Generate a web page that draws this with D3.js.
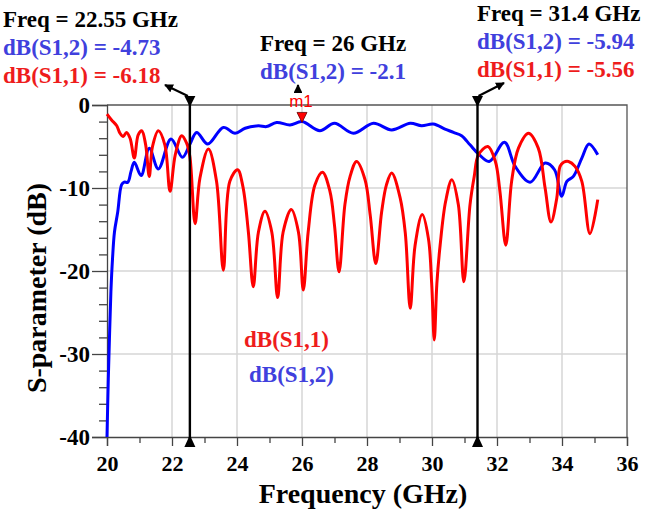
<!DOCTYPE html>
<html><head><meta charset="utf-8">
<script src="https://cdn.jsdelivr.net/npm/d3@7"></script>
<style>body{margin:0;background:#fff} svg{display:block}</style>
</head><body>
<svg id="c" width="659" height="513"></svg>
<script>
// ---- data ----
const s11Freq = [20.00,20.14,20.30,20.40,20.50,20.60,20.71,20.84,20.96,21.07,21.19,21.30,21.40,21.58,21.78,21.94,22.10,22.30,22.45,22.55,22.71,22.86,23.12,23.37,23.58,23.78,24.02,24.18,24.35,24.50,24.66,24.86,25.07,25.25,25.42,25.67,25.89,26.04,26.19,26.40,26.63,26.86,27.00,27.14,27.32,27.48,27.68,27.94,28.10,28.27,28.45,28.60,28.76,29.02,29.18,29.33,29.48,29.70,29.89,29.99,30.07,30.15,30.25,30.42,30.61,30.81,30.98,31.17,31.30,31.43,31.72,31.95,32.09,32.27,32.45,32.66,32.97,33.27,33.48,33.66,33.84,33.94,34.05,34.20,34.40,34.61,34.86,35.10];
const s11dB   = [-1.1,-1.8,-2.5,-3.4,-3.8,-3.3,-4.0,-6.4,-3.6,-3.1,-4.8,-8.6,-5.0,-3.1,-4.8,-10.4,-6.0,-3.7,-4.6,-6.2,-14.3,-8.8,-5.3,-9.2,-19.9,-9.2,-7.8,-9.8,-15.3,-21.9,-15.3,-12.8,-15.3,-23.2,-15.3,-12.6,-15.3,-22.3,-15.3,-9.6,-8.1,-10.4,-14.5,-20.1,-12.0,-8.6,-6.8,-9.0,-13.3,-19.1,-12.9,-9.6,-8.2,-11.2,-15.5,-24.5,-16.9,-13.2,-16.1,-21.5,-28.3,-21.5,-16.9,-11.6,-9.0,-12.0,-21.3,-12.0,-8.6,-6.0,-5.0,-6.8,-10.4,-16.9,-9.2,-5.2,-3.4,-5.2,-10.0,-14.1,-11.2,-7.4,-6.9,-6.8,-7.4,-9.2,-15.5,-11.4];
const s12Freq = [20.00,20.04,20.08,20.12,20.17,20.23,20.33,20.45,20.53,20.64,20.74,20.84,21.05,21.30,21.58,21.97,22.32,22.55,22.76,23.10,23.58,23.94,24.25,24.66,24.91,25.22,25.63,26.00,26.55,27.00,27.58,28.20,28.76,29.33,29.68,30.04,30.40,30.66,30.91,31.17,31.43,31.76,32.23,32.56,33.02,33.48,33.77,33.99,34.15,34.35,34.61,34.83,35.10];
const s12dB   = [-40,-33,-27.5,-22.5,-18.5,-15.3,-12.9,-9.6,-9.3,-9.3,-8.0,-6.9,-8.5,-5.2,-7.7,-4.1,-6.3,-4.73,-3.3,-4.7,-2.7,-3.4,-2.8,-2.5,-2.6,-2.1,-2.4,-2.0,-3.1,-2.2,-3.4,-2.2,-3.0,-2.2,-2.5,-2.3,-2.9,-3.3,-3.7,-4.8,-5.9,-6.8,-4.5,-7.4,-9.3,-7.0,-7.8,-11.0,-9.2,-8.6,-6.4,-4.7,-6.0];
const xTicks = [20,22,24,26,28,30,32,34,36];
const xMinor = [21,23,25,27,29,31,33,35];
const yTicks = [0,-10,-20,-30,-40];
const yMinor = [-2,-4,-6,-8,-12,-14,-16,-18,-22,-24,-26,-28,-32,-34,-36,-38];
const markerFreqs = [22.55, 31.4];
const m1Freq = 26, m1Val = -2.1;
const ann1 = ["Freq = 22.55 GHz","dB(S1,2) = -4.73","dB(S1,1) = -6.18"];
const ann2 = ["Freq = 26 GHz","dB(S1,2) = -2.1"];
const ann3 = ["Freq = 31.4 GHz","dB(S1,2) = -5.94","dB(S1,1) = -5.56"];

const RED = "#ff0000", BLUE = "#0000ff", TRED = "#ee1c1c", TBLUE = "#4040dd";
const serif = "'Liberation Serif','Times New Roman',serif";

const svg = d3.select("#c");
svg.append("rect").attr("width",659).attr("height",513).attr("fill","#fff");
const L=107, R=627, T=105, B=437;
const x = d3.scaleLinear().domain([20,36]).range([L,R]);
const y = d3.scaleLinear().domain([-40,0]).range([B,T]);

// grid
const g = svg.append("g");
g.selectAll("line.vg").data(xTicks.slice(1,-1)).join("line")
  .attr("x1",d=>x(d)).attr("x2",d=>x(d)).attr("y1",T).attr("y2",B)
  .attr("stroke","#d6d6d6").attr("stroke-width",1.5);
g.selectAll("line.hg").data(yTicks.slice(1,-1)).join("line")
  .attr("y1",d=>y(d)).attr("y2",d=>y(d)).attr("x1",L).attr("x2",R)
  .attr("stroke","#d6d6d6").attr("stroke-width",1.5);
// frame top/right
svg.append("path").attr("d",`M${L},${T}H${R}V${B}`).attr("fill","none").attr("stroke","#555").attr("stroke-width",1.3);

// axes
function styleAxis(sel, fs){
  sel.select(".domain").attr("stroke","#444").attr("stroke-width",1.3);
  sel.selectAll(".tick line").attr("stroke","#444").attr("stroke-width",1.3);
  sel.selectAll("text").attr("font-family",serif).attr("font-weight","bold").attr("font-size",fs).attr("fill","#000");
}
const fmt = d => String(d);
const xa = svg.append("g").attr("transform",`translate(0,${B})`)
  .call(d3.axisBottom(x).tickValues(xTicks).tickSize(9).tickPadding(9).tickFormat(fmt));
styleAxis(xa, 22);
const xm = svg.append("g").attr("transform",`translate(0,${B})`)
  .call(d3.axisBottom(x).tickValues(xMinor).tickSize(6).tickFormat(""));
styleAxis(xm, 22);
const ya = svg.append("g").attr("transform",`translate(${L},0)`)
  .call(d3.axisLeft(y).tickValues(yTicks).tickSize(15).tickPadding(2).tickFormat(fmt));
styleAxis(ya, 23);
const ym = svg.append("g").attr("transform",`translate(${L},0)`)
  .call(d3.axisLeft(y).tickValues(yMinor).tickSize(8).tickFormat(""));
styleAxis(ym, 23);
[xm,ym].forEach(a=>a.select(".domain").remove());

// axis titles
svg.append("text").attr("x",(L+R)/2-4).attr("y",503).attr("text-anchor","middle")
  .attr("font-family",serif).attr("font-weight","bold").attr("font-size",28).text("Frequency (GHz)");
svg.append("text").attr("transform",`translate(46,${288}) rotate(-90)`).attr("text-anchor","middle")
  .attr("font-family",serif).attr("font-weight","bold").attr("font-size",28).text("S-parameter (dB)");

// curves
const line = d3.line().x(d=>x(d[0])).y(d=>y(d[1])).curve(d3.curveCatmullRom.alpha(0.5));
svg.append("path").datum(s12Freq.map((f,i)=>[f,s12dB[i]])).attr("d",line)
  .attr("fill","none").attr("stroke",BLUE).attr("stroke-width",3).attr("stroke-linejoin","round");
svg.append("path").datum(s11Freq.map((f,i)=>[f,s11dB[i]])).attr("d",line)
  .attr("fill","none").attr("stroke",RED).attr("stroke-width",3).attr("stroke-linejoin","round");

// legend texts inside plot
svg.append("text").attr("x",244).attr("y",347).attr("font-family",serif).attr("font-weight","bold")
  .attr("font-size",23).attr("fill",TRED).text("dB(S1,1)");
svg.append("text").attr("x",249).attr("y",382).attr("font-family",serif).attr("font-weight","bold")
  .attr("font-size",23).attr("fill",TBLUE).text("dB(S1,2)");

// marker lines
markerFreqs.forEach(f=>{
  const xx = x(f);
  svg.append("line").attr("x1",xx).attr("x2",xx).attr("y1",T-6).attr("y2",B+6)
    .attr("stroke","#000").attr("stroke-width",2.4);
  svg.append("path").attr("d",`M${xx-5.5},${T-9}L${xx+5.5},${T-9}L${xx},${T+2}Z`).attr("fill","#000");
  svg.append("path").attr("d",`M${xx-5.5},${B+10}L${xx+5.5},${B+10}L${xx},${B-2}Z`).attr("fill","#000");
});

// m1 marker
const mx = x(m1Freq), my = y(m1Val);
svg.append("path").attr("d",`M${mx-5},${my-10}L${mx+5},${my-10}L${mx},${my}Z`)
  .attr("fill","#ff0000").attr("stroke","#600").attr("stroke-width",0.8);
svg.append("text").attr("x",mx-1).attr("y",T+2).attr("text-anchor","middle")
  .attr("font-family","'Liberation Sans',Arial,sans-serif").attr("font-size",17).attr("fill",RED).text("m1");

// arrows
const defs = svg.append("defs");
defs.append("marker").attr("id","ah").attr("viewBox","0 0 10 10").attr("refX",9).attr("refY",5)
  .attr("markerWidth",4).attr("markerHeight",4).attr("orient","auto")
  .append("path").attr("d","M0,0L10,5L0,10Z").attr("fill","#000");
function arrow(x1,y1,x2,y2){
  svg.append("line").attr("x1",x1).attr("y1",y1).attr("x2",x2).attr("y2",y2)
    .attr("stroke","#000").attr("stroke-width",2.2).attr("marker-end","url(#ah)");
}
arrow(x(22.55)-2,T-9,165,85);
arrow(mx-4,T-12,mx-4,85);
arrow(x(31.4)+1,T-9,504,83);

// annotation blocks
function block(lines, x0, y0, colors){
  lines.forEach((t,i)=>{
    svg.append("text").attr("x",x0).attr("y",y0+i*28).attr("font-family",serif)
      .attr("font-weight","bold").attr("font-size",23).attr("fill",colors[i]).text(t);
  });
}
block(ann1, 3, 27, ["#000",TBLUE,TRED]);
block(ann2, 260, 51, ["#000",TBLUE]);
block(ann3, 477, 21, ["#000",TBLUE,TRED]);
</script>
</body></html>
